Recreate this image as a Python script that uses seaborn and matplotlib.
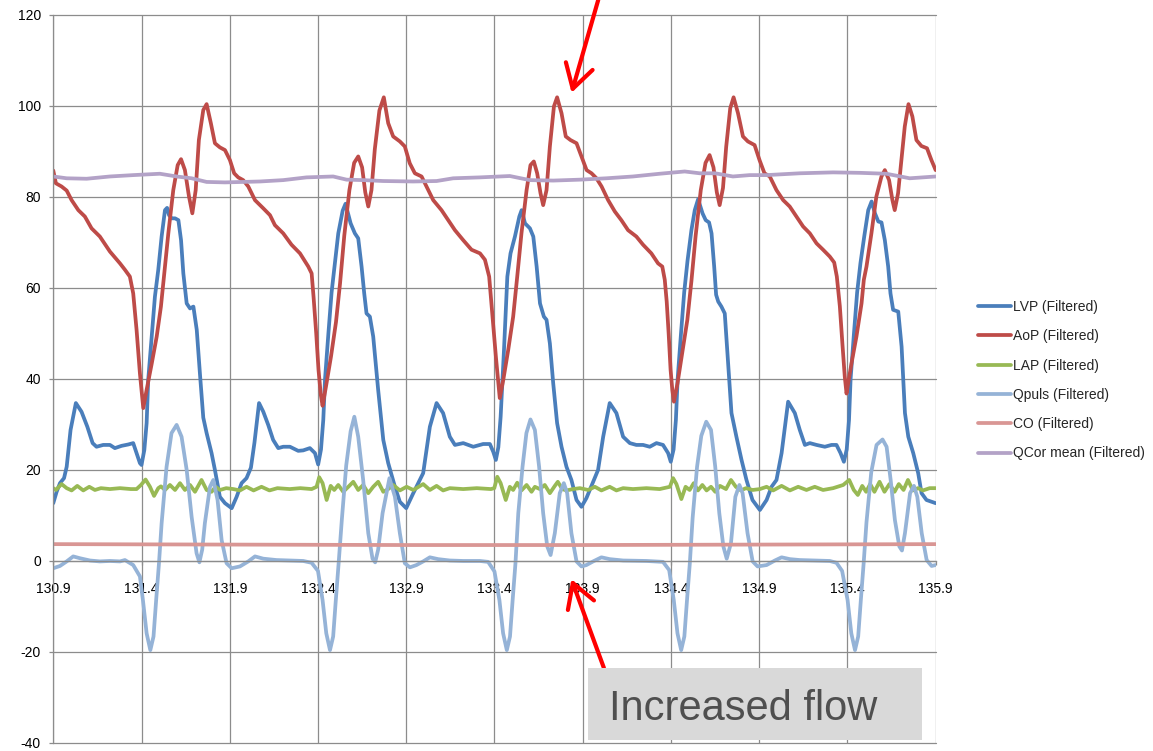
import pandas as pd
import seaborn as sns
import matplotlib.pyplot as plt
from matplotlib.patches import Rectangle

# (time, value) pairs
lvp = [
    (130.900, 12.7), (130.919, 15.2), (130.938, 17.1), (130.961, 18.2), (130.976, 20.7), (130.998, 28.8),
    (131.028, 34.7), (131.060, 32.8), (131.093, 29.5), (131.123, 25.9), (131.145, 25.1), (131.183, 25.5),
    (131.221, 25.5), (131.249, 24.8), (131.287, 25.3), (131.325, 25.6), (131.353, 25.9), (131.372, 23.7),
    (131.391, 21.5), (131.400, 21.1),
    (131.416, 24.4), (131.429, 30.3), (131.438, 39.8), (131.458, 49.3), (131.476, 58.1), (131.495, 64.0),
    (131.514, 71.3), (131.533, 77.1), (131.545, 77.6), (131.556, 76.0), (131.571, 75.3), (131.590, 75.3),
    (131.609, 74.9), (131.624, 70.5), (131.637, 63.2), (131.656, 56.6), (131.675, 55.5), (131.694, 55.9),
    (131.713, 50.8), (131.731, 41.2), (131.750, 31.5), (131.769, 28.1), (131.797, 23.7), (131.816, 20.0),
    (131.844, 14.1), (131.873, 12.7), (131.911, 11.6), (131.939, 14.1), (131.967, 17.1), (131.995, 18.2),
    (132.020, 20.5), (132.040, 26.0), (132.066, 34.7), (132.090, 32.8), (132.118, 29.9), (132.146, 26.6),
    (132.175, 24.8), (132.203, 25.1), (132.241, 25.1), (132.288, 24.2), (132.316, 24.3), (132.354, 24.8),
    (132.383, 23.7), (132.401, 21.2),
    (132.417, 24.5), (132.430, 31.0), (132.440, 40.0), (132.459, 50.0), (132.477, 59.0), (132.496, 65.5),
    (132.515, 72.0), (132.540, 77.0), (132.556, 78.5), (132.585, 74.2), (132.609, 72.0), (132.628, 70.9),
    (132.647, 64.7), (132.662, 58.8), (132.675, 54.4), (132.694, 53.7), (132.713, 49.3), (132.741, 37.6),
    (132.770, 26.6), (132.798, 21.5), (132.836, 16.3), (132.864, 13.0), (132.900, 11.6), (132.940, 14.9),
    (132.968, 17.1), (132.996, 19.3), (133.034, 29.5), (133.072, 34.7), (133.109, 32.5), (133.147, 27.3),
    (133.176, 25.5), (133.223, 25.9), (133.280, 25.1), (133.336, 25.7), (133.374, 25.7), (133.393, 24.0),
    (133.408, 22.2),
    (133.422, 25.0), (133.435, 31.7), (133.454, 46.4), (133.473, 62.5), (133.491, 67.6), (133.516, 71.3),
    (133.541, 75.7), (133.554, 77.1), (133.573, 74.2), (133.601, 73.1), (133.620, 71.3), (133.639, 64.7),
    (133.658, 56.6), (133.680, 53.7), (133.695, 53.0), (133.714, 47.8), (133.733, 39.0), (133.755, 30.3),
    (133.780, 25.1), (133.808, 20.7), (133.836, 17.8), (133.865, 13.4), (133.893, 11.9), (133.921, 13.8),
    (133.959, 17.4), (133.987, 20.0), (134.016, 27.3), (134.053, 34.7), (134.091, 32.5), (134.129, 27.3),
    (134.167, 25.9), (134.204, 25.5), (134.242, 25.5), (134.280, 25.1), (134.318, 25.9), (134.355, 25.5),
    (134.384, 23.7), (134.399, 21.8),
    (134.415, 24.5), (134.428, 31.0), (134.438, 40.0), (134.457, 50.0), (134.475, 59.0), (134.494, 66.0),
    (134.516, 72.7), (134.535, 77.1), (134.554, 79.5), (134.579, 76.4), (134.597, 74.9), (134.616, 74.4),
    (134.630, 72.0), (134.645, 64.7), (134.656, 58.5), (134.668, 57.0), (134.686, 55.9), (134.705, 54.4),
    (134.724, 43.4), (134.743, 32.5), (134.771, 27.3), (134.800, 22.2), (134.828, 17.8), (134.862, 13.4),
    (134.904, 11.2), (134.942, 13.4), (134.970, 16.3), (134.998, 17.8), (135.027, 23.7), (135.064, 35.0),
    (135.102, 32.5), (135.130, 28.8), (135.159, 25.5), (135.187, 25.9), (135.225, 25.5), (135.272, 25.1),
    (135.310, 25.5), (135.338, 25.5), (135.361, 23.7), (135.380, 21.8),
    (135.396, 24.5), (135.409, 31.0), (135.418, 40.0), (135.437, 50.0), (135.455, 59.0), (135.474, 65.5),
    (135.496, 71.5), (135.518, 77.1), (135.537, 79.0), (135.556, 76.4), (135.575, 74.6), (135.593, 74.4),
    (135.612, 70.5), (135.631, 64.7), (135.644, 58.8), (135.659, 55.2), (135.688, 54.8), (135.707, 47.1),
    (135.726, 32.5), (135.745, 27.3), (135.773, 23.7), (135.801, 19.3), (135.820, 14.9), (135.848, 13.4),
    (135.877, 13.0), (135.900, 12.7),
]

aop = [
    (130.900, 85.8), (130.915, 83.0), (130.947, 82.3), (130.976, 81.4), (131.004, 79.3), (131.042, 77.1),
    (131.079, 75.7), (131.117, 73.1), (131.164, 71.3), (131.221, 68.0), (131.278, 65.4), (131.306, 64.0),
    (131.334, 62.5), (131.353, 58.8), (131.372, 50.8), (131.391, 41.2), (131.410, 33.6),
    (131.429, 37.6), (131.458, 43.4), (131.486, 49.3), (131.510, 55.9), (131.529, 63.2), (131.552, 72.0),
    (131.580, 81.5), (131.605, 87.0), (131.624, 88.3), (131.646, 85.9), (131.669, 80.1), (131.688, 76.4),
    (131.707, 81.5), (131.725, 92.5), (131.750, 99.1), (131.769, 100.4), (131.793, 96.2), (131.816, 91.8),
    (131.844, 90.9), (131.873, 90.3), (131.901, 88.1), (131.925, 85.2), (131.948, 84.3), (131.976, 83.7),
    (132.005, 82.3), (132.043, 79.3), (132.090, 77.5), (132.128, 76.0), (132.156, 73.8), (132.203, 72.0),
    (132.250, 69.5), (132.298, 67.6), (132.345, 64.7), (132.364, 63.2), (132.375, 58.0), (132.390, 50.0),
    (132.403, 42.0), (132.416, 36.5), (132.426, 34.1),
    (132.446, 38.5), (132.474, 45.0), (132.502, 52.5), (132.525, 61.0), (132.549, 71.5), (132.578, 81.5),
    (132.605, 87.5), (132.628, 88.9), (132.650, 86.5), (132.668, 81.0), (132.685, 77.9), (132.703, 81.5),
    (132.722, 90.5), (132.748, 99.0), (132.773, 101.9), (132.798, 96.2), (132.826, 93.3), (132.864, 92.2),
    (132.892, 91.1), (132.920, 87.4), (132.949, 85.2), (132.987, 84.5), (133.015, 82.3), (133.053, 79.3),
    (133.100, 77.1), (133.138, 74.9), (133.176, 72.7), (133.223, 70.5), (133.270, 68.4), (133.318, 67.6),
    (133.346, 66.2), (133.370, 62.5), (133.389, 53.7), (133.408, 44.9), (133.430, 35.8),
    (133.450, 39.8), (133.478, 46.4), (133.506, 53.7), (133.529, 62.5), (133.553, 72.0), (133.582, 81.5),
    (133.604, 87.0), (133.623, 87.8), (133.642, 85.2), (133.661, 80.8), (133.676, 78.2), (133.695, 81.5),
    (133.714, 91.1), (133.737, 99.9), (133.755, 101.9), (133.780, 98.4), (133.804, 93.3), (133.831, 92.5),
    (133.865, 91.8), (133.893, 88.9), (133.922, 85.9), (133.950, 85.2), (133.978, 84.1), (134.007, 82.3),
    (134.044, 79.3), (134.082, 76.8), (134.119, 74.9), (134.157, 72.7), (134.204, 71.3), (134.242, 69.5),
    (134.289, 67.6), (134.327, 65.4), (134.351, 64.7), (134.365, 61.8), (134.376, 57.0), (134.387, 50.0),
    (134.398, 42.0), (134.408, 37.5), (134.417, 35.0),
    (134.437, 39.0), (134.465, 46.0), (134.493, 53.0), (134.516, 61.5), (134.540, 71.5), (134.569, 81.5),
    (134.596, 87.5), (134.619, 89.2), (134.641, 86.5), (134.660, 81.0), (134.676, 78.2), (134.695, 82.0),
    (134.713, 91.0), (134.736, 99.5), (134.755, 101.9), (134.780, 98.4), (134.808, 93.3), (134.836, 92.2),
    (134.874, 91.4), (134.902, 88.1), (134.930, 85.2), (134.960, 84.5), (134.998, 81.5), (135.036, 79.3),
    (135.073, 77.9), (135.111, 75.7), (135.149, 73.5), (135.187, 72.0), (135.225, 69.8), (135.262, 68.4),
    (135.300, 66.9), (135.325, 65.6), (135.340, 62.5), (135.357, 56.0), (135.372, 47.5), (135.385, 40.5),
    (135.395, 36.8),
    (135.404, 39.0), (135.423, 43.4), (135.451, 49.3), (135.480, 56.6), (135.493, 61.8), (135.508, 64.7),
    (135.536, 72.0), (135.564, 80.1), (135.593, 84.5), (135.612, 85.9), (135.636, 83.7), (135.655, 79.3),
    (135.668, 77.1), (135.687, 80.8), (135.706, 88.1), (135.725, 95.5), (135.746, 100.4), (135.768, 97.7),
    (135.791, 92.5), (135.819, 91.2), (135.851, 90.7), (135.876, 88.1), (135.900, 85.9),
]

lap = [
    (130.900, 16.0), (130.915, 15.6), (130.947, 16.9), (130.976, 16.0), (131.004, 15.5), (131.036, 16.5),
    (131.070, 15.5), (131.104, 16.3), (131.136, 15.6), (131.170, 16.0), (131.221, 15.8), (131.278, 16.0),
    (131.340, 15.8), (131.372, 15.8), (131.397, 16.7), (131.423, 17.9), (131.448, 16.3), (131.471, 14.3),
    (131.495, 16.0), (131.510, 16.4), (131.533, 15.6), (131.561, 16.7), (131.590, 15.6), (131.618, 17.1),
    (131.646, 15.6), (131.675, 16.7), (131.703, 15.2), (131.740, 17.8), (131.769, 15.6), (131.797, 15.2),
    (131.820, 16.3), (131.845, 15.6), (131.880, 16.0), (131.920, 15.8), (131.958, 15.5), (131.995, 16.3),
    (132.035, 15.5), (132.080, 16.3), (132.125, 15.5), (132.170, 16.0), (132.240, 15.8), (132.300, 16.0),
    (132.364, 15.8), (132.392, 16.3), (132.407, 18.4), (132.426, 17.1), (132.449, 13.4), (132.472, 16.5),
    (132.492, 15.6), (132.515, 16.7), (132.543, 15.2), (132.572, 16.3), (132.600, 17.4), (132.628, 15.6),
    (132.656, 16.7), (132.685, 14.9), (132.713, 16.3), (132.741, 17.4), (132.770, 15.2), (132.798, 15.8),
    (132.826, 16.7), (132.864, 15.5), (132.902, 16.3), (132.940, 15.6), (132.996, 16.9), (133.034, 15.6),
    (133.072, 16.5), (133.109, 15.5), (133.147, 16.0), (133.223, 15.8), (133.300, 16.0), (133.380, 15.8),
    (133.399, 16.0), (133.416, 18.5), (133.435, 17.1), (133.464, 13.4), (133.487, 16.3), (133.506, 15.6),
    (133.529, 17.2), (133.553, 15.5), (133.582, 16.7), (133.610, 15.2), (133.629, 16.3), (133.657, 15.8),
    (133.685, 16.7), (133.714, 14.9), (133.742, 16.5), (133.759, 17.4), (133.784, 15.8), (133.808, 15.5),
    (133.846, 15.8), (133.884, 16.0), (133.931, 15.6), (133.969, 16.3), (134.006, 15.5), (134.053, 16.3),
    (134.091, 15.5), (134.129, 16.0), (134.185, 15.8), (134.261, 16.0), (134.336, 15.8), (134.394, 16.3),
    (134.412, 18.2), (134.431, 16.9), (134.459, 13.6), (134.483, 16.3), (134.506, 15.6), (134.529, 17.1),
    (134.553, 15.5), (134.578, 16.7), (134.602, 15.5), (134.627, 16.3), (134.651, 15.2), (134.678, 16.5),
    (134.712, 15.8), (134.740, 17.8), (134.768, 16.3), (134.797, 15.5), (134.825, 16.0), (134.863, 15.6),
    (134.904, 15.8), (134.942, 16.3), (134.979, 15.5), (135.027, 16.5), (135.074, 15.5), (135.121, 16.3),
    (135.168, 15.6), (135.215, 16.3), (135.262, 15.6), (135.319, 16.0), (135.376, 16.7), (135.410, 17.8),
    (135.436, 15.6), (135.459, 14.5), (135.484, 16.5), (135.506, 15.2), (135.529, 16.9), (135.553, 15.2),
    (135.582, 17.4), (135.610, 15.2), (135.638, 16.9), (135.667, 15.2), (135.691, 16.9), (135.718, 15.6),
    (135.743, 17.8), (135.771, 15.5), (135.800, 16.0), (135.828, 15.5), (135.866, 16.0), (135.900, 16.0),
]

qpuls = [
    (130.900, -1.6), (130.938, -1.1), (130.976, -0.1), (131.013, 1.0), (131.051, 0.6), (131.108, 0.1),
    (131.164, -0.1), (131.221, 0.0), (131.278, -0.1), (131.306, 0.2), (131.353, -0.9), (131.391, -3.4),
    (131.408, -8.6), (131.429, -15.9), (131.450, -19.6), (131.468, -16.6), (131.483, -8.6), (131.499, -0.5),
    (131.514, 8.3), (131.542, 20.7), (131.570, 28.1), (131.599, 29.9), (131.627, 27.3), (131.656, 20.0),
    (131.684, 9.7), (131.712, 1.7), (131.728, -0.3), (131.744, 2.5), (131.759, 8.3), (131.788, 16.3),
    (131.807, 17.8), (131.831, 13.4), (131.854, 4.6), (131.882, -0.5), (131.911, -1.6), (131.958, -1.2),
    (132.005, -0.1), (132.043, 1.0), (132.090, 0.5), (132.165, 0.2), (132.241, 0.1), (132.316, 0.0),
    (132.364, -0.4), (132.400, -2.2), (132.426, -8.6), (132.447, -15.9), (132.468, -19.6), (132.486, -16.6),
    (132.501, -8.6), (132.517, -0.5), (132.535, 9.0), (132.560, 21.0), (132.585, 28.5), (132.606, 31.7),
    (132.628, 27.3), (132.656, 17.8), (132.685, 6.1), (132.709, 0.5), (132.724, -0.3), (132.741, 2.5),
    (132.766, 10.5), (132.805, 18.2), (132.836, 14.1), (132.864, 6.1), (132.892, -0.5), (132.921, -1.4),
    (132.958, -0.9), (132.996, -0.1), (133.034, 0.8), (133.081, 0.4), (133.147, 0.1), (133.223, 0.0),
    (133.317, 0.0), (133.364, -0.2), (133.400, -2.3), (133.428, -8.6), (133.449, -15.9), (133.470, -19.6),
    (133.488, -16.6), (133.503, -8.6), (133.519, -0.5), (133.535, 10.5), (133.559, 20.7), (133.581, 28.1),
    (133.604, 31.1), (133.629, 28.8), (133.653, 20.7), (133.676, 10.5), (133.699, 3.2), (133.718, 1.3),
    (133.742, 6.1), (133.770, 14.9), (133.793, 17.1), (133.812, 14.9), (133.836, 6.1), (133.865, -0.1),
    (133.893, -1.2), (133.921, -0.9), (133.959, -0.1), (134.006, 0.8), (134.053, 0.4), (134.129, 0.1),
    (134.261, 0.0), (134.355, -0.2), (134.390, -2.0), (134.416, -8.6), (134.437, -15.9), (134.458, -19.6),
    (134.476, -16.6), (134.491, -8.6), (134.507, -0.5), (134.523, 9.5), (134.548, 20.7), (134.572, 27.5),
    (134.600, 30.6), (134.627, 28.8), (134.651, 20.7), (134.674, 10.5), (134.697, 3.2), (134.716, 0.5),
    (134.740, 3.9), (134.765, 14.1), (134.788, 16.7), (134.806, 14.9), (134.834, 6.1), (134.863, -0.1),
    (134.891, -1.2), (134.942, -0.9), (134.989, 0.1), (135.027, 0.8), (135.074, 0.4), (135.130, 0.2),
    (135.206, 0.1), (135.300, 0.0), (135.338, -0.4), (135.370, -2.2), (135.401, -8.6), (135.422, -15.9),
    (135.443, -19.6), (135.461, -16.6), (135.476, -8.6), (135.492, -0.5), (135.508, 8.5), (135.535, 19.5),
    (135.565, 25.5), (135.599, 26.7), (135.622, 25.1), (135.645, 17.8), (135.669, 9.0), (135.694, 3.2),
    (135.709, 2.3), (135.726, 6.1), (135.755, 14.9), (135.777, 16.5), (135.796, 14.1), (135.821, 6.1),
    (135.849, 0.2), (135.877, -1.1), (135.900, -0.9),
]

co = [(130.900, 3.7), (131.900, 3.6), (132.900, 3.5), (133.900, 3.5), (134.900, 3.6), (135.900, 3.7)]

qcor = [
    (130.900, 84.5), (130.976, 84.1), (131.089, 84.0), (131.221, 84.5), (131.353, 84.8), (131.504, 85.1),
    (131.599, 84.5), (131.684, 84.1), (131.769, 83.3), (131.873, 83.2), (131.976, 83.3), (132.071, 83.4),
    (132.203, 83.7), (132.335, 84.3), (132.486, 84.5), (132.562, 83.8), (132.656, 83.7), (132.770, 83.5),
    (132.939, 83.4), (133.072, 83.5), (133.166, 84.1), (133.317, 84.3), (133.487, 84.6), (133.600, 83.7),
    (133.733, 83.6), (133.884, 83.8), (134.034, 84.1), (134.185, 84.5), (134.336, 85.1), (134.478, 85.6),
    (134.563, 85.2), (134.651, 85.2), (134.751, 84.5), (134.846, 84.8), (134.941, 84.8), (135.130, 85.2),
    (135.319, 85.4), (135.470, 85.3), (135.621, 85.1), (135.753, 84.1), (135.900, 84.5),
]

series_names = ['LVP (Filtered)', 'AoP (Filtered)', 'LAP (Filtered)',
                'Qpuls (Filtered)', 'CO (Filtered)', 'QCor mean (Filtered)']
series_colors = ['#4a7ebb', '#be4b48', '#98b954', '#95b3d7', '#d99694', '#b3a2c7']
x_ticks = [130.9, 131.4, 131.9, 132.4, 132.9, 133.4, 133.9, 134.4, 134.9, 135.4, 135.9]
y_ticks = [-40, -20, 0, 20, 40, 60, 80, 100, 120]

sns.set_theme(style='white')
plt.rcParams['font.family'] = ['Liberation Sans', 'DejaVu Sans']
plt.rcParams['axes.unicode_minus'] = False

fig = plt.figure(figsize=(11.53, 7.51), dpi=100)
ax = fig.add_axes([0.0462, 0.0107, 0.7653, 0.9694])

for data, name, color in zip([lvp, aop, lap, qpuls, co, qcor], series_names, series_colors):
    df = pd.DataFrame(data, columns=['t', 'v'])
    sns.lineplot(data=df, x='t', y='v', ax=ax, color=color, lw=2.7,
                 label=name, sort=False, estimator=None)

ax.set_xlim(130.9, 135.9)
ax.set_ylim(-40, 120)
ax.set_xticks(x_ticks)
ax.set_xticklabels([f'{t:.1f}' for t in x_ticks])
ax.set_yticks(y_ticks)
ax.set_xlabel('')
ax.set_ylabel('')

grid_col = '#8c8c8c'
ax.grid(True, color=grid_col, lw=0.9)
ax.set_axisbelow(True)
for gl in ax.get_xgridlines() + ax.get_ygridlines():
    gl.set_clip_on(False)

for side in ['top', 'right']:
    ax.spines[side].set_visible(False)
ax.spines['left'].set_color(grid_col)
ax.spines['left'].set_linewidth(0.9)
ax.spines['bottom'].set_position(('data', 0))
ax.spines['bottom'].set_color(grid_col)
ax.spines['bottom'].set_linewidth(0.9)

ax.tick_params(axis='y', left=True, direction='out', length=3, width=0.9,
               color=grid_col, pad=6, labelsize=10, labelcolor='black')
ax.tick_params(axis='x', bottom=True, direction='out', length=3, width=0.9,
               color=grid_col, pad=12, labelsize=10, labelcolor='black')

ax.legend(loc='upper left', bbox_to_anchor=(978 / 1153, 1 - 300 / 751),
          bbox_transform=fig.transFigure, frameon=False, fontsize=10,
          handlelength=2.35, handletextpad=0.2, labelspacing=1.1,
          borderpad=0, borderaxespad=0)

# red arrows and the note box
arrow_style = dict(arrowstyle='->,head_length=0.85,head_width=0.5',
                   color='#ff0000', lw=3, mutation_scale=20, shrinkA=0, shrinkB=0)
ax.annotate('', xy=(133.837, 102.9), xytext=(133.988, 123.3),
            arrowprops=arrow_style, annotation_clip=False)
ax.annotate('', xy=(133.836, -4.0), xytext=(134.020, -23.5),
            arrowprops=arrow_style, annotation_clip=False)

ax.add_patch(Rectangle((133.931, -39.3), 1.89, 15.8, facecolor='#d9d9d9',
                       edgecolor='none', zorder=5))
ax.text(134.050, -34.9, 'Increased flow', fontsize=30, color='#4f4f4f',
        va='baseline', ha='left', zorder=6)

fig.savefig('out.png', dpi=100)
